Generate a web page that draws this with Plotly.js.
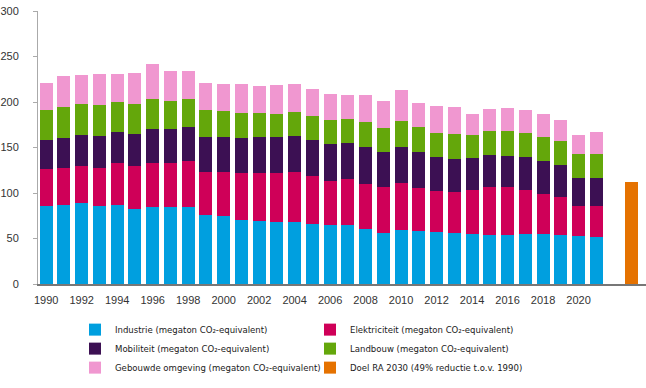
<!DOCTYPE html>
<html>
<head>
<meta charset="utf-8">
<script src="https://cdn.plot.ly/plotly-3.0.1.min.js"></script>
<style>html,body{margin:0;padding:0;background:#fff;}#chart{width:646px;height:388px;}</style>
</head>
<body>
<div id="chart"></div>
<script>
const years = ['1990','1991','1992','1993','1994','1995','1996','1997','1998','1999','2000','2001','2002','2003','2004','2005','2006','2007','2008','2009','2010','2011','2012','2013','2014','2015','2016','2017','2018','2019','2020','2021'];
const gapCategory = 'gap';
const targetCategory = '2030';
const tickYears = ['1990','1992','1994','1996','1998','2000','2002','2004','2006','2008','2010','2012','2014','2016','2018','2020'];

const industrie     = [85.7,86.8,89.0,85.7,86.8,82.4,84.6,84.6,84.6,75.8,74.7,70.3,69.2,68.1,68.1,65.9,64.8,64.8,60.4,56.0,59.3,58.2,57.1,56.0,54.9,53.8,53.8,54.9,54.9,53.8,52.7,51.6];
const elektriciteit = [40.7,40.7,40.7,41.8,46.2,47.3,48.4,48.4,50.6,47.3,48.4,51.7,52.8,53.9,55.0,52.8,48.4,50.6,49.5,50.6,51.7,47.3,45.1,45.1,48.4,52.8,52.8,48.4,44.0,41.8,33.0,34.1];
const mobiliteit    = [31.8,32.9,34.0,35.1,34.0,35.1,37.3,37.3,37.3,38.4,38.4,38.4,39.5,39.5,39.5,39.5,40.6,39.5,40.6,38.4,39.5,39.5,37.4,36.3,35.2,35.2,34.1,36.3,36.3,35.2,30.8,30.8];
const landbouw      = [33.0,34.1,34.1,34.1,33.0,33.0,33.0,30.8,30.8,29.7,28.6,27.5,26.4,25.3,26.4,26.4,26.4,26.4,27.5,26.4,28.6,27.5,26.3,27.4,25.2,26.3,27.4,26.3,26.3,26.3,26.4,26.4];
const gebouwd       = [29.7,34.1,31.9,34.1,30.8,34.1,38.5,33.0,30.8,29.7,29.7,31.9,29.7,31.9,30.8,29.7,28.6,26.4,29.7,29.7,34.1,26.4,29.7,29.7,23.1,24.2,25.3,25.3,25.3,23.1,20.8,24.1];
const doelRA2030    = [112.5];

const names = [
  'Industrie (megaton CO₂-equivalent)',
  'Elektriciteit (megaton CO₂-equivalent)',
  'Mobiliteit (megaton CO₂-equivalent)',
  'Landbouw (megaton CO₂-equivalent)',
  'Gebouwde omgeving (megaton CO₂-equivalent)',
  'Doel RA 2030 (49% reductie t.o.v. 1990)'
];
const colors = ['#009FDF','#CF0058','#3C1053','#64A70B','#F097D0','#E57200'];
const series = [industrie, elektriciteit, mobiliteit, landbouw, gebouwd];

// pick a condensed legend font if one is installed, and size it to the reference width
const ctx = document.createElement('canvas').getContext('2d');
function widthOf(font, size, txt) { ctx.font = size + 'px ' + font; return ctx.measureText(txt).width; }
const probe = 'Gebouwde omgeving (megaton CO₂-equivalent)';
const candidates = ['"Liberation Sans Narrow"', '"DejaVu Sans Condensed"', '"Roboto Condensed"', '"Open Sans Condensed"'];
let legendFamily = '"Liberation Sans", Arial, sans-serif';
for (const c of candidates) {
  if (Math.abs(widthOf(c + ', monospace', 20, probe) - widthOf('monospace', 20, probe)) > 1) { legendFamily = c + ', "Liberation Sans", sans-serif'; break; }
}
let legendSize = 11;
const w11 = widthOf(legendFamily, 11, probe);
if (w11 > 208) legendSize = Math.round(11 * 206 / w11 * 10) / 10;

const traces = series.map((s, i) => ({
  type: 'bar', x: years, y: s, name: names[i],
  marker: {color: colors[i], line: {width: 0}}
}));
traces.push({
  type: 'bar', x: [targetCategory], y: doelRA2030, name: names[5],
  marker: {color: colors[5], line: {width: 0}}
});

const layout = {
  width: 646, height: 388,
  margin: {l: 38, r: 0, t: 11, b: 104, pad: 0, autoexpand: false},
  paper_bgcolor: '#fff', plot_bgcolor: '#fff',
  barmode: 'stack', bargap: 0.267,
  font: {family: 'Liberation Sans, Arial, sans-serif', size: 11, color: '#333'},
  xaxis: {
    type: 'category',
    categoryorder: 'array',
    categoryarray: years.concat([gapCategory, targetCategory]),
    range: [-0.46, 33.8],
    tickvals: tickYears, ticktext: tickYears,
    showgrid: false, zeroline: false,
    showline: true, linecolor: '#777', linewidth: 1.5,
    ticks: '', ticklabelstandoff: 5,
    tickfont: {size: 11, color: '#333'}
  },
  yaxis: {
    range: [0, 300], dtick: 50, tick0: 0,
    showgrid: false, zeroline: false,
    showline: true, linecolor: '#aaa', linewidth: 1,
    ticks: 'outside', ticklen: 4, tickcolor: '#aaa',
    ticklabelstandoff: 12,
    tickfont: {size: 11, color: '#333'}
  },
  showlegend: true,
  legend: {
    orientation: 'h', x: (75 - 38) / 608, xanchor: 'left', y: -0.114, yanchor: 'top',
    entrywidth: 190, entrywidthmode: 'pixels',
    font: {family: legendFamily, size: legendSize, color: '#1a1a1a'},
    itemwidth: 30, traceorder: 'normal', bgcolor: 'rgba(0,0,0,0)'
  }
};

Plotly.newPlot('chart', traces, layout, {displayModeBar: false, staticPlot: true});
</script>
</body>
</html>
